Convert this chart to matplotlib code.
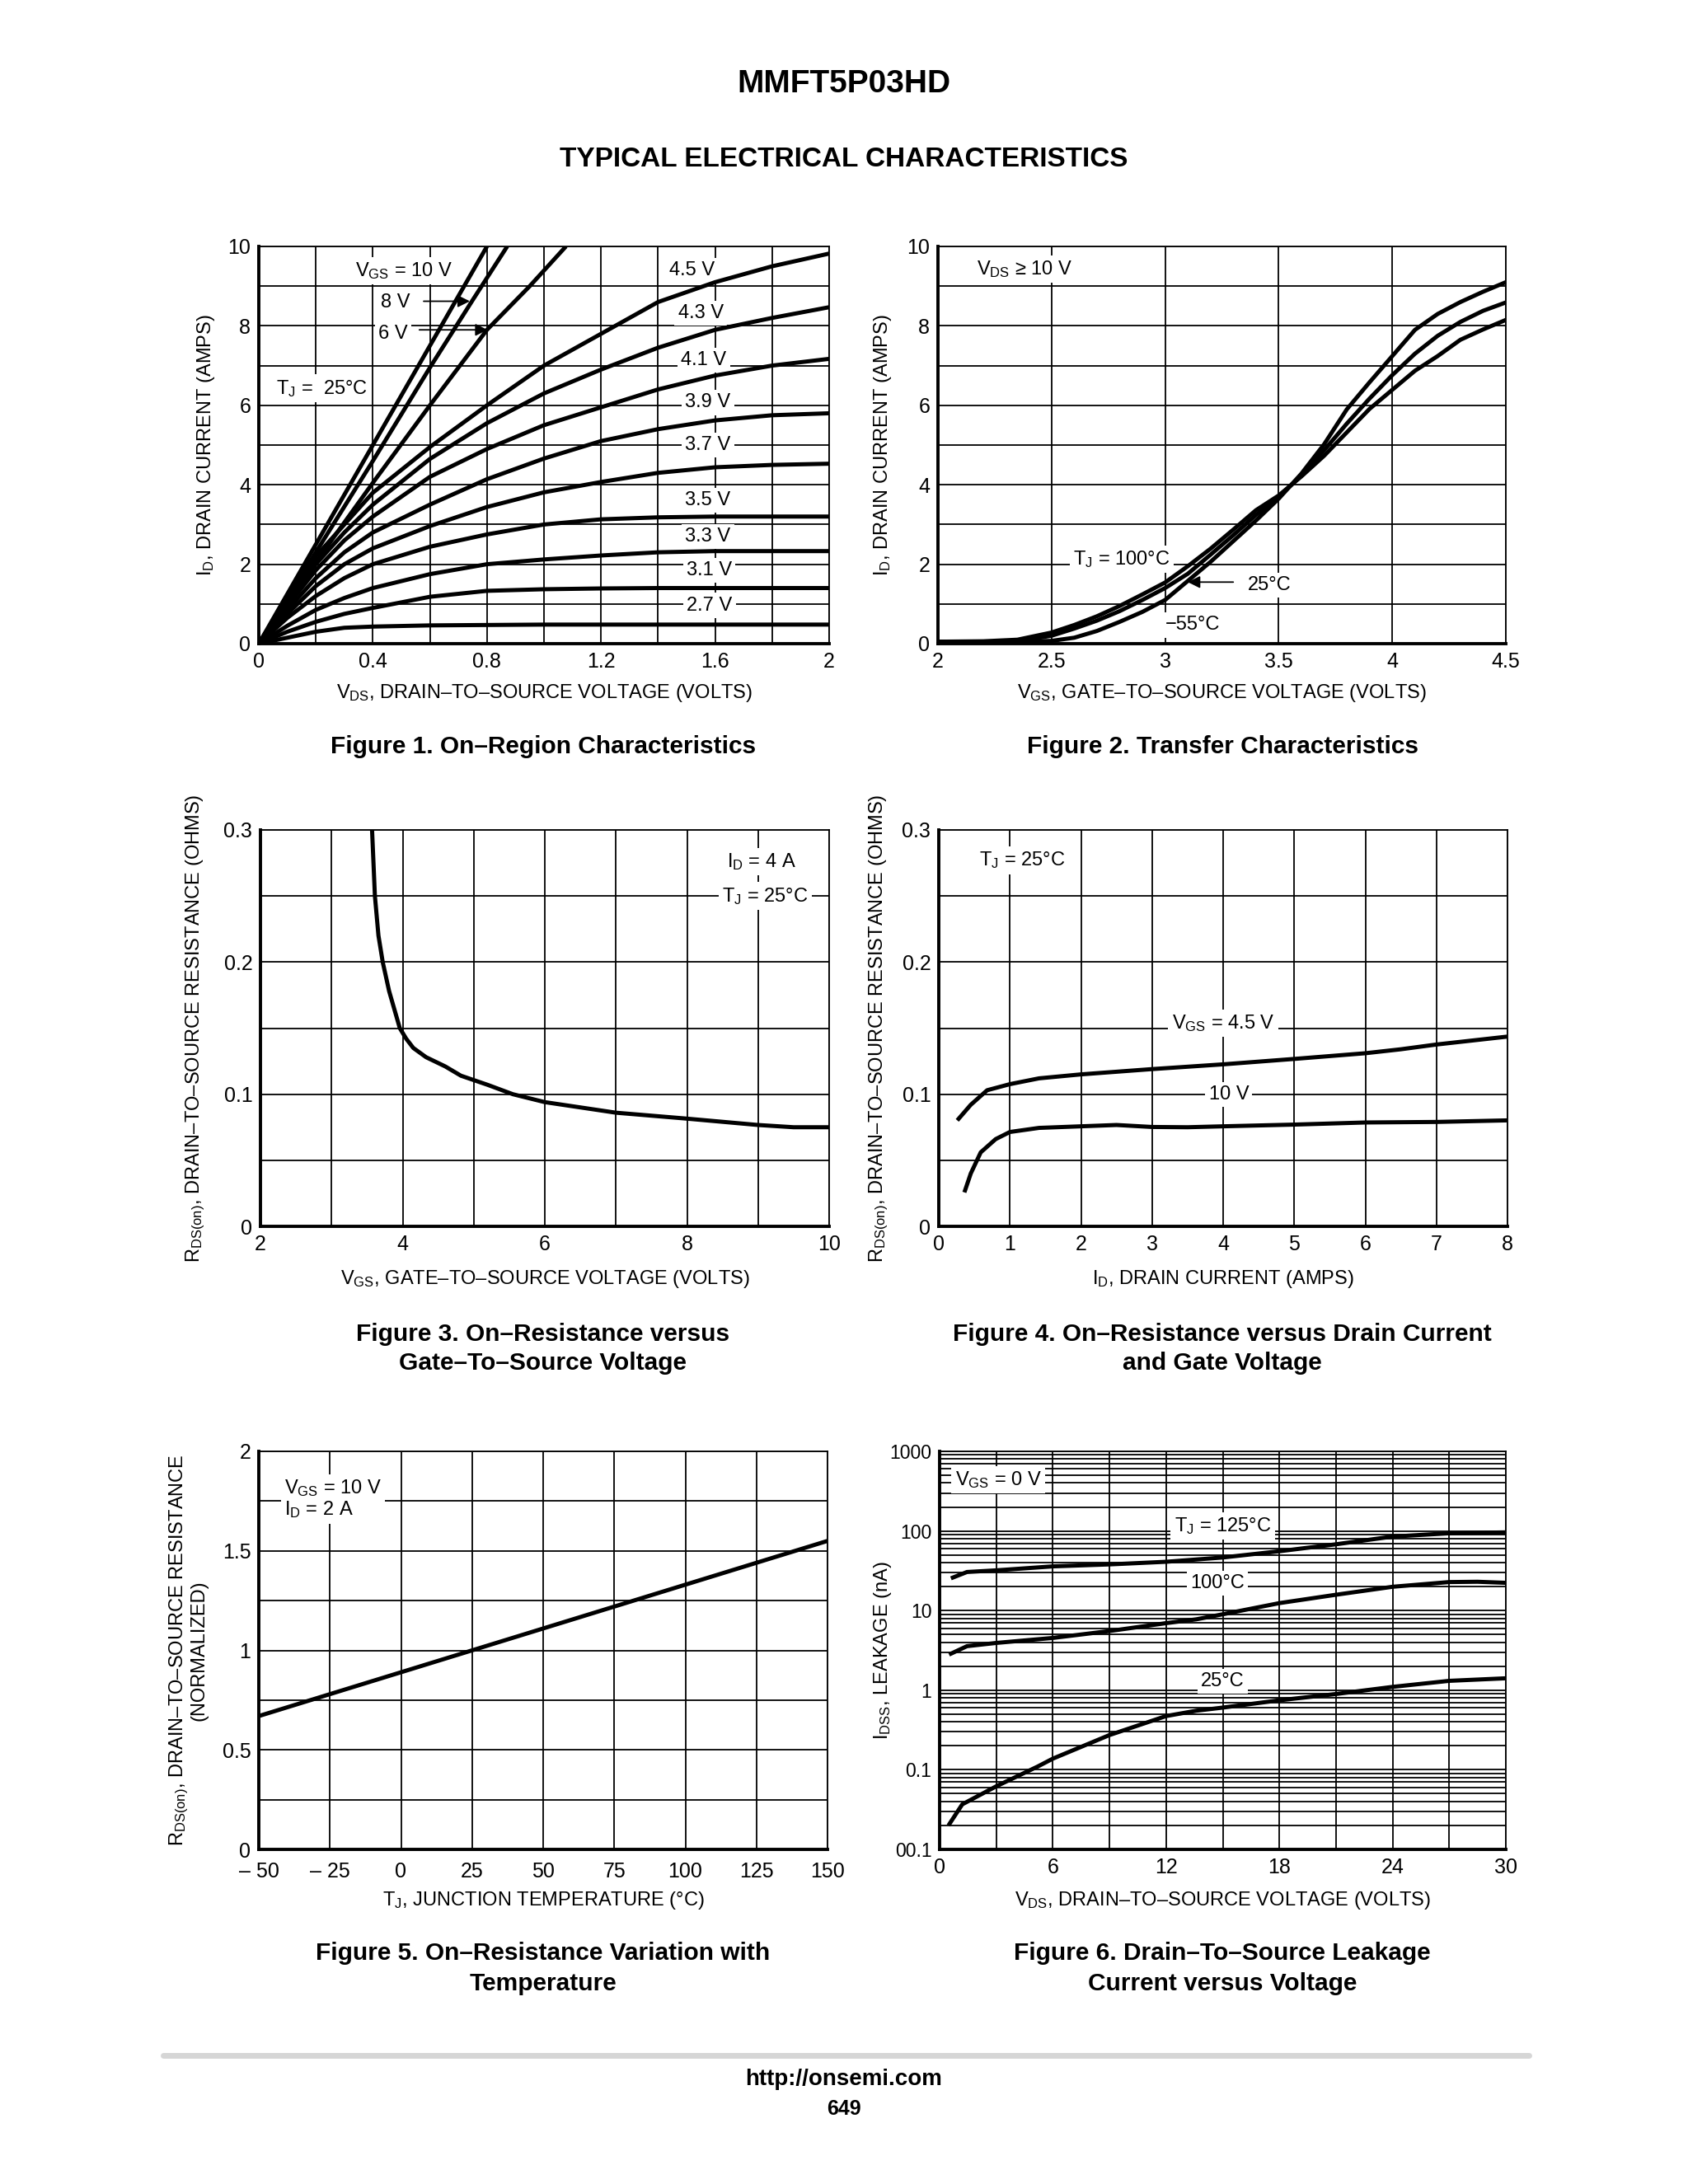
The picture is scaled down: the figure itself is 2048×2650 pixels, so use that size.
import matplotlib
matplotlib.use('Agg')
import matplotlib.pyplot as plt
from matplotlib.ticker import MultipleLocator, FixedLocator, FixedFormatter, FuncFormatter, NullFormatter

SANS = ['Liberation Sans', 'DejaVu Sans']
plt.rcParams['font.family'] = SANS
plt.rcParams['mathtext.fontset'] = 'custom'
plt.rcParams['mathtext.rm'] = 'Liberation Sans'
plt.rcParams['mathtext.it'] = 'Liberation Sans:italic'
plt.rcParams['mathtext.bf'] = 'Liberation Sans:bold'

# ---------------- Figure 1 data: On-region characteristics ----------------
f1_vds_10 = [0, 0.2, 0.4, 0.6, 0.8]
f1_id_10 = [0, 2.5, 5.0, 7.5, 10.0]
f1_vds_8 = [0, 0.2, 0.4, 0.6, 0.75, 0.871]
f1_id_8 = [0, 2.3, 4.6, 6.95, 8.65, 10.0]
f1_vds_6 = [0, 0.2, 0.4, 0.6, 0.8, 0.95, 1.077]
f1_id_6 = [0, 2.05, 4.05, 6.0, 7.9, 9.0, 10.0]
f1_vds = [0, 0.1, 0.2, 0.3, 0.4, 0.6, 0.8, 1.0, 1.2, 1.4, 1.6, 1.8, 2.0]
f1_id_45 = [0, 1.1, 2.2, 3.0, 3.8, 4.95, 6.0, 7.0, 7.8, 8.6, 9.1, 9.5, 9.82]
f1_id_43 = [0, 1.0, 2.0, 2.8, 3.5, 4.65, 5.55, 6.3, 6.9, 7.45, 7.9, 8.2, 8.47]
f1_id_41 = [0, 0.95, 1.85, 2.6, 3.2, 4.2, 4.9, 5.5, 5.95, 6.4, 6.75, 7.0, 7.17]
f1_id_39 = [0, 0.85, 1.65, 2.3, 2.8, 3.5, 4.14, 4.66, 5.1, 5.4, 5.62, 5.75, 5.8]
f1_id_37 = [0, 0.75, 1.45, 2.0, 2.4, 2.96, 3.44, 3.81, 4.07, 4.3, 4.44, 4.5, 4.53]
f1_id_35 = [0, 0.65, 1.2, 1.65, 2.0, 2.44, 2.75, 3.0, 3.13, 3.18, 3.2, 3.2, 3.2]
f1_id_33 = [0, 0.45, 0.85, 1.15, 1.4, 1.75, 2.0, 2.12, 2.22, 2.3, 2.33, 2.33, 2.33]
f1_id_31 = [0, 0.3, 0.55, 0.75, 0.9, 1.18, 1.33, 1.37, 1.39, 1.4, 1.4, 1.4, 1.4]
f1_id_27 = [0, 0.15, 0.3, 0.4, 0.43, 0.46, 0.47, 0.48, 0.48, 0.48, 0.48, 0.48, 0.48]
f1_labels = ['4.5 V', '4.3 V', '4.1 V', '3.9 V', '3.7 V', '3.5 V', '3.3 V', '3.1 V', '2.7 V']
f1_label_x = [1.52, 1.55, 1.56, 1.575, 1.575, 1.575, 1.575, 1.58, 1.58]
f1_label_y = [9.39, 8.32, 7.14, 6.07, 5.0, 3.61, 2.7, 1.85, 0.96]

# ---------------- Figure 2 data: Transfer characteristics ----------------
f2_vgs = [2.0, 2.2, 2.35, 2.5, 2.6, 2.7, 2.8, 2.9, 3.0, 3.1, 3.2, 3.3, 3.4, 3.5,
          3.6, 3.7, 3.8, 3.9, 4.0, 4.1, 4.2, 4.3, 4.4, 4.5]
f2_id_m55 = [0.05, 0.05, 0.05, 0.07, 0.15, 0.32, 0.55, 0.8, 1.1, 1.58, 2.06, 2.58, 3.1, 3.65,
             4.28, 5.02, 5.9, 6.58, 7.24, 7.9, 8.3, 8.6, 8.86, 9.1]
f2_id_25 = [0.05, 0.05, 0.06, 0.2, 0.38, 0.58, 0.82, 1.1, 1.4, 1.76, 2.24, 2.73, 3.24, 3.69,
            4.24, 4.87, 5.54, 6.17, 6.76, 7.3, 7.75, 8.1, 8.38, 8.59]
f2_id_100 = [0.05, 0.06, 0.1, 0.28, 0.47, 0.69, 0.95, 1.24, 1.54, 1.95, 2.39, 2.87, 3.36, 3.73,
             4.21, 4.73, 5.32, 5.91, 6.39, 6.87, 7.24, 7.65, 7.91, 8.15]

# ---------------- Figure 3 data: RDS(on) vs VGS ----------------
f3_vgs = [3.57, 3.61, 3.66, 3.72, 3.81, 3.96, 4.05, 4.15, 4.33, 4.6, 4.82, 5.2, 5.55,
          6.0, 6.5, 7.0, 8.0, 9.0, 9.5, 10.0]
f3_rds = [0.3, 0.25, 0.22, 0.2, 0.178, 0.15, 0.142, 0.135, 0.128, 0.121, 0.114, 0.107, 0.1,
          0.094, 0.09, 0.086, 0.0815, 0.0767, 0.075, 0.075]

# ---------------- Figure 4 data: RDS(on) vs ID ----------------
f4_id_45 = [0.26, 0.45, 0.68, 1.0, 1.41, 2, 3, 4, 5, 6, 6.5, 7, 8]
f4_r_45 = [0.0802, 0.092, 0.103, 0.1076, 0.112, 0.115, 0.119, 0.1226, 0.1267, 0.131, 0.134, 0.1376, 0.1436]
f4_id_10 = [0.36, 0.45, 0.59, 0.8, 1.0, 1.41, 2, 2.5, 3, 3.5, 4, 5, 6, 7, 8]
f4_r_10 = [0.0257, 0.04, 0.056, 0.066, 0.0714, 0.0745, 0.0757, 0.0767, 0.0752, 0.075, 0.0757,
           0.077, 0.0786, 0.079, 0.0802]

# ---------------- Figure 5 data: RDS(on) vs temperature ----------------
f5_tj = [-50, 0, 25, 50, 100, 150]
f5_rn = [0.67, 0.89, 1.0, 1.11, 1.33, 1.55]
f5_xticks = [-50, -25, 0, 25, 50, 75, 100, 125, 150]
f5_xlabels = ['– 50', '– 25', '0', '25', '50', '75', '100', '125', '150']

# ---------------- Figure 6 data: leakage ----------------
f6_vds_125 = [0.6, 1.45, 3.0, 6.0, 9.0, 12.0, 15.0, 18.0, 21.0, 24.0, 27.0, 30.0]
f6_i_125 = [25.4, 30.5, 32, 35.9, 38, 41, 46.4, 55.6, 68, 85, 93.5, 96]
f6_vds_100 = [0.5, 1.45, 3.0, 6.0, 9.0, 12.0, 13.6, 15.0, 18.0, 21.0, 24.0, 27.0, 28.5, 30.0]
f6_i_100 = [2.8, 3.57, 3.92, 4.53, 5.53, 6.95, 7.76, 8.98, 12.4, 15.8, 19.9, 22.8, 23.0, 22.3]
f6_vds_25 = [0.47, 1.2, 3.0, 5.2, 6.0, 9.0, 12.0, 13.6, 15.0, 18.0, 21.0, 24.0, 27.0, 30.0]
f6_i_25 = [0.02, 0.0368, 0.062, 0.11, 0.138, 0.273, 0.473, 0.552, 0.604, 0.746, 0.895, 1.1, 1.31, 1.41]
f6_yticks = [0.01, 0.1, 1, 10, 100, 1000]
f6_ylabels = ['00.1', '0.1', '1', '10', '100', '1000']

# ---------------- layout helpers ----------------
W, H = 2048, 2650
fig = plt.figure(figsize=(W / 100, H / 100), dpi=100)


def axes_px(x0, y0, x1, y1):
    return fig.add_axes([x0 / W, 1 - y1 / H, (x1 - x0) / W, (y1 - y0) / H])


def ftext(px, py, s, **kw):
    fig.text(px / W, 1 - py / H, s, ha='center', va='center', **kw)


TICK = 18
LAB = 17
CAP = 21.5
CURVE = 3.6
GRID = 1.3


def style(ax):
    for s in ['left', 'bottom']:
        ax.spines[s].set_linewidth(2.8)
    for s in ['top', 'right']:
        ax.spines[s].set_linewidth(GRID)
    ax.tick_params(which='both', length=0, labelsize=TICK, pad=7)
    ax.grid(True, which='both', color='black', lw=GRID)
    ax.set_axisbelow(True)


gfmt = FuncFormatter(lambda v, p: '%g' % v)
box = dict(facecolor='white', edgecolor='none', pad=3)


def ann(ax, x, y, s, **kw):
    kw.setdefault('ha', 'center')
    ax.text(x, y, s, fontsize=LAB, va='center', bbox=box, zorder=3, **kw)


def curve(ax, x, y):
    ax.plot(x, y, color='black', lw=CURVE, zorder=4, solid_capstyle='butt')


def arrow(ax, xy, xytext):
    ax.annotate('', xy=xy, xytext=xytext, zorder=5,
                arrowprops=dict(arrowstyle='-|>', color='black', lw=1.3, mutation_scale=22))


# ---------------- headers ----------------
ftext(1024, 102, 'MMFT5P03HD', fontsize=28, fontweight='bold')
ftext(1024, 193, 'TYPICAL ELECTRICAL CHARACTERISTICS', fontsize=24, fontweight='bold')

# ---------------- Figure 1 ----------------
ax1 = axes_px(314, 299, 1006, 781)
style(ax1)
ax1.set_xlim(0, 2)
ax1.set_ylim(0, 10)
ax1.xaxis.set_major_locator(MultipleLocator(0.4))
ax1.xaxis.set_minor_locator(MultipleLocator(0.2))
ax1.yaxis.set_major_locator(MultipleLocator(2))
ax1.yaxis.set_minor_locator(MultipleLocator(1))
ax1.xaxis.set_major_formatter(gfmt)
ax1.yaxis.set_major_formatter(gfmt)
curve(ax1, f1_vds_10, f1_id_10)
curve(ax1, f1_vds_8, f1_id_8)
curve(ax1, f1_vds_6, f1_id_6)
for ser in [f1_id_45, f1_id_43, f1_id_41, f1_id_39, f1_id_37, f1_id_35, f1_id_33, f1_id_31, f1_id_27]:
    curve(ax1, f1_vds, ser)
for s, x, y in zip(f1_labels, f1_label_x, f1_label_y):
    ann(ax1, x, y, s)
ann(ax1, 0.51, 9.39, r'$\mathrm{V_{GS}}$ = 10 V')
ann(ax1, 0.48, 8.58, '8 V')
ann(ax1, 0.47, 7.8, '6 V')
ann(ax1, 0.22, 6.43, r'$\mathrm{T_J}$ =  25°C')
arrow(ax1, (0.748, 8.62), (0.57, 8.62))
arrow(ax1, (0.81, 7.9), (0.555, 7.9))
ax1.text(-0.092, 0.5, r'$\mathrm{I_D}$, DRAIN CURRENT (AMPS)', rotation=90, fontsize=LAB,
         ha='center', va='center', transform=ax1.transAxes)
ax1.text(0.5, -0.125, r'$\mathrm{V_{DS}}$, DRAIN–TO–SOURCE VOLTAGE (VOLTS)', fontsize=LAB,
         ha='center', va='center', transform=ax1.transAxes)
ftext(659, 906, 'Figure 1. On–Region Characteristics', fontsize=CAP, fontweight='bold')

# ---------------- Figure 2 ----------------
ax2 = axes_px(1138, 299, 1827, 781)
style(ax2)
ax2.set_xlim(2, 4.5)
ax2.set_ylim(0, 10)
ax2.xaxis.set_major_locator(MultipleLocator(0.5))
ax2.yaxis.set_major_locator(MultipleLocator(2))
ax2.yaxis.set_minor_locator(MultipleLocator(1))
ax2.xaxis.set_major_formatter(gfmt)
ax2.yaxis.set_major_formatter(gfmt)
curve(ax2, f2_vgs, f2_id_m55)
curve(ax2, f2_vgs, f2_id_25)
curve(ax2, f2_vgs, f2_id_100)
ann(ax2, 2.38, 9.43, r'$\mathrm{V_{DS}}$ ≥ 10 V')
ann(ax2, 2.81, 2.13, r'$\mathrm{T_J}$ = 100°C')
ann(ax2, 3.46, 1.47, '25°C')
ann(ax2, 3.12, 0.47, '−55°C')
arrow(ax2, (3.09, 1.55), (3.31, 1.55))
ax2.text(-0.097, 0.5, r'$\mathrm{I_D}$, DRAIN CURRENT (AMPS)', rotation=90, fontsize=LAB,
         ha='center', va='center', transform=ax2.transAxes)
ax2.text(0.5, -0.125, r'$\mathrm{V_{GS}}$, GATE–TO–SOURCE VOLTAGE (VOLTS)', fontsize=LAB,
         ha='center', va='center', transform=ax2.transAxes)
ftext(1483, 906, 'Figure 2. Transfer Characteristics', fontsize=CAP, fontweight='bold')

# ---------------- Figure 3 ----------------
ax3 = axes_px(316, 1007, 1006, 1488)
style(ax3)
ax3.set_xlim(2, 10)
ax3.set_ylim(0, 0.3)
ax3.xaxis.set_major_locator(MultipleLocator(2))
ax3.xaxis.set_minor_locator(MultipleLocator(1))
ax3.yaxis.set_major_locator(MultipleLocator(0.1))
ax3.yaxis.set_minor_locator(MultipleLocator(0.05))
ax3.xaxis.set_major_formatter(gfmt)
ax3.yaxis.set_major_formatter(gfmt)
curve(ax3, f3_vgs, f3_rds)
ann(ax3, 9.05, 0.276, r'$\mathrm{I_D}$ = 4 A')
ann(ax3, 9.1, 0.25, r'$\mathrm{T_J}$ = 25°C')
ax3.text(-0.114, 0.5, r'$\mathrm{R_{DS(on)}}$, DRAIN–TO–SOURCE RESISTANCE (OHMS)', rotation=90,
         fontsize=LAB, ha='center', va='center', transform=ax3.transAxes)
ax3.text(0.5, -0.133, r'$\mathrm{V_{GS}}$, GATE–TO–SOURCE VOLTAGE (VOLTS)', fontsize=LAB,
         ha='center', va='center', transform=ax3.transAxes)
ftext(659, 1619, 'Figure 3. On–Resistance versus', fontsize=CAP, fontweight='bold')
ftext(659, 1654, 'Gate–To–Source Voltage', fontsize=CAP, fontweight='bold')

# ---------------- Figure 4 ----------------
ax4 = axes_px(1139, 1007, 1829, 1488)
style(ax4)
ax4.set_xlim(0, 8)
ax4.set_ylim(0, 0.3)
ax4.xaxis.set_major_locator(MultipleLocator(1))
ax4.yaxis.set_major_locator(MultipleLocator(0.1))
ax4.yaxis.set_minor_locator(MultipleLocator(0.05))
ax4.xaxis.set_major_formatter(gfmt)
ax4.yaxis.set_major_formatter(gfmt)
curve(ax4, f4_id_45, f4_r_45)
curve(ax4, f4_id_10, f4_r_10)
ann(ax4, 1.17, 0.277, r'$\mathrm{T_J}$ = 25°C')
ann(ax4, 4.0, 0.1536, r'$\mathrm{V_{GS}}$ = 4.5 V')
ann(ax4, 4.08, 0.0999, '10 V')
ax4.text(-0.106, 0.5, r'$\mathrm{R_{DS(on)}}$, DRAIN–TO–SOURCE RESISTANCE (OHMS)', rotation=90,
         fontsize=LAB, ha='center', va='center', transform=ax4.transAxes)
ax4.text(0.5, -0.133, r'$\mathrm{I_D}$, DRAIN CURRENT (AMPS)', fontsize=LAB,
         ha='center', va='center', transform=ax4.transAxes)
ftext(1483, 1619, 'Figure 4. On–Resistance versus Drain Current', fontsize=CAP, fontweight='bold')
ftext(1483, 1654, 'and Gate Voltage', fontsize=CAP, fontweight='bold')

# ---------------- Figure 5 ----------------
ax5 = axes_px(314, 1761, 1004, 2244)
style(ax5)
ax5.set_xlim(-50, 150)
ax5.set_ylim(0, 2)
ax5.xaxis.set_major_locator(FixedLocator(f5_xticks))
ax5.xaxis.set_major_formatter(FixedFormatter(f5_xlabels))
ax5.yaxis.set_major_locator(MultipleLocator(0.5))
ax5.yaxis.set_minor_locator(MultipleLocator(0.25))
ax5.yaxis.set_major_formatter(gfmt)
ax5.tick_params(axis='x', pad=11)
curve(ax5, f5_tj, f5_rn)
ax5.text(-41, 1.76, r'$\mathrm{V_{GS}}$ = 10 V' + '\n' + r'$\mathrm{I_D}$ = 2 A', fontsize=LAB,
         ha='left', va='center', multialignment='left', linespacing=1.05, bbox=box, zorder=3)
ax5.text(-0.125, 0.5, r'$\mathrm{R_{DS(on)}}$, DRAIN–TO–SOURCE RESISTANCE' + '\n(NORMALIZED)',
         rotation=90, fontsize=LAB, ha='center', va='center', linespacing=0.95,
         transform=ax5.transAxes)
ax5.text(0.5, -0.128, r'$\mathrm{T_J}$, JUNCTION TEMPERATURE (°C)', fontsize=LAB,
         ha='center', va='center', transform=ax5.transAxes)
ftext(659, 2370, 'Figure 5. On–Resistance Variation with', fontsize=CAP, fontweight='bold')
ftext(659, 2407, 'Temperature', fontsize=CAP, fontweight='bold')

# ---------------- Figure 6 ----------------
ax6 = axes_px(1140, 1761, 1827, 2244)
ax6.set_yscale('log')
style(ax6)
ax6.set_xlim(0, 30)
ax6.set_ylim(0.01, 1000)
ax6.xaxis.set_major_locator(MultipleLocator(6))
ax6.xaxis.set_minor_locator(MultipleLocator(3))
ax6.xaxis.set_major_formatter(gfmt)
ax6.yaxis.set_major_locator(FixedLocator(f6_yticks))
ax6.yaxis.set_major_formatter(FixedFormatter(f6_ylabels))
minors = [m * 10.0 ** e for e in range(-2, 3) for m in range(2, 10)]
ax6.yaxis.set_minor_locator(FixedLocator(minors))
ax6.yaxis.set_minor_formatter(NullFormatter())
ax6.tick_params(axis='y', labelsize=16.5)
curve(ax6, f6_vds_125, f6_i_125)
curve(ax6, f6_vds_100, f6_i_100)
curve(ax6, f6_vds_25, f6_i_25)
ann(ax6, 3.1, 440, r'$\mathrm{V_{GS}}$ = 0 V')
ann(ax6, 15.0, 115, r'$\mathrm{T_J}$ = 125°C')
ann(ax6, 14.7, 22, '100°C')
ann(ax6, 15.0, 1.29, '25°C')
ax6.text(-0.1, 0.5, r'$\mathrm{I_{DSS}}$, LEAKAGE (nA)', rotation=90, fontsize=LAB,
         ha='center', va='center', transform=ax6.transAxes)
ax6.text(0.5, -0.128, r'$\mathrm{V_{DS}}$, DRAIN–TO–SOURCE VOLTAGE (VOLTS)', fontsize=LAB,
         ha='center', va='center', transform=ax6.transAxes)
ftext(1483, 2370, 'Figure 6. Drain–To–Source Leakage', fontsize=CAP, fontweight='bold')
ftext(1483, 2407, 'Current versus Voltage', fontsize=CAP, fontweight='bold')

# ---------------- footer ----------------
fig.add_artist(plt.Line2D([198 / W, 1855 / W], [1 - 2494 / H, 1 - 2494 / H], color='#d6d6d6',
                          lw=5, solid_capstyle='round'))
ftext(1024, 2523, 'http://onsemi.com', fontsize=20, fontweight='bold')
ftext(1024, 2559, '649', fontsize=18, fontweight='bold')

fig.savefig('out.png', dpi=100, facecolor='white')
